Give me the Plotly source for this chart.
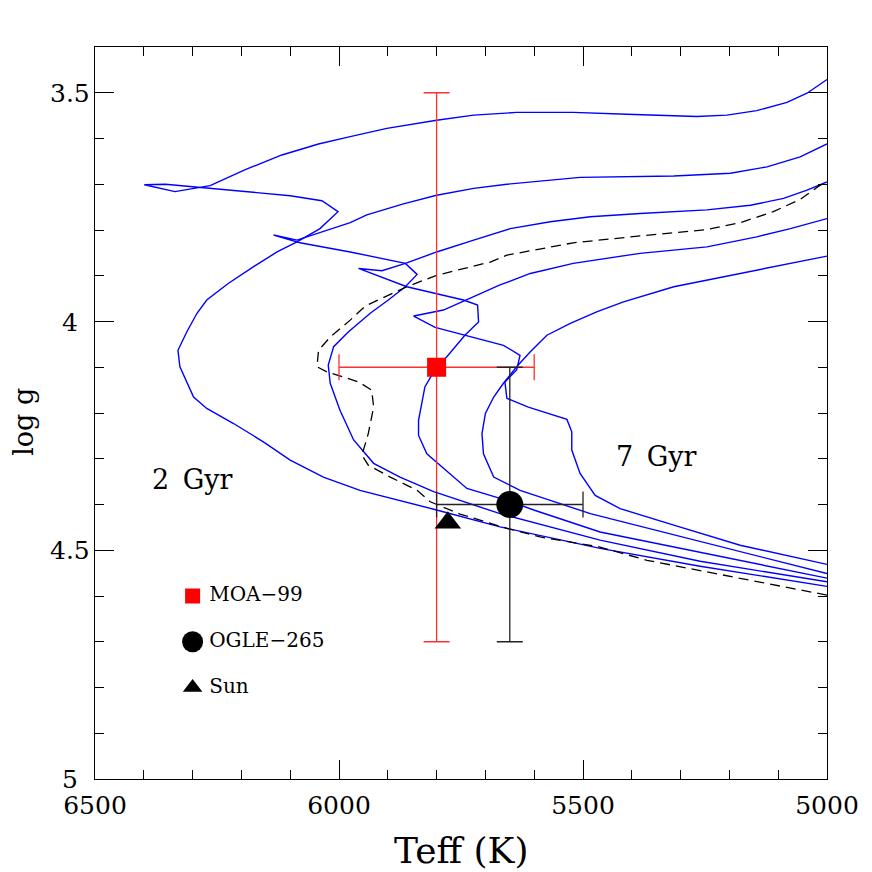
import plotly.graph_objects as go

# --- isochrones (Teff in K, log g) ---
iso_a_teff = [5000, 5260, 5465, 5670, 5800, 5875, 5957, 6032, 6100, 6155, 6216, 6271, 6298, 6326, 6330,
              6312, 6291, 6271, 6227, 6175, 6127, 6086, 6039, 6002, 6035, 6100, 6356, 6399, 6336, 6264,
              6192, 6117, 6042, 5977, 5902, 5800, 5724, 5636, 5520, 5410, 5267, 5205, 5144, 5082, 5041, 5000]
iso_a_logg = [4.579, 4.535, 4.496, 4.449, 4.412, 4.391, 4.369, 4.340, 4.303, 4.263, 4.223, 4.190, 4.165, 4.099, 4.063,
              4.023, 3.982, 3.953, 3.917, 3.880, 3.848, 3.826, 3.797, 3.760, 3.736, 3.725, 3.700, 3.701, 3.716, 3.703,
              3.668, 3.636, 3.612, 3.596, 3.578, 3.560, 3.549, 3.543, 3.543, 3.547, 3.552, 3.549, 3.539, 3.521, 3.501, 3.471]

iso_b_teff = [5000, 5260, 5465, 5670, 5806, 5875, 5929, 5970, 5998, 6018, 6022, 6011, 5981, 5936, 5899,
              5864, 5840, 5864, 5977, 6032, 6080, 6134, 6086, 5977, 5943, 5868, 5800, 5724, 5656, 5506,
              5314, 5198, 5123, 5055, 5000]
iso_b_logg = [4.569, 4.524, 4.478, 4.420, 4.372, 4.340, 4.310, 4.259, 4.194, 4.135, 4.095, 4.055, 4.023, 3.982, 3.953,
              3.924, 3.897, 3.873, 3.848, 3.837, 3.828, 3.811, 3.822, 3.784, 3.767, 3.743, 3.724, 3.709, 3.700, 3.685,
              3.682, 3.676, 3.662, 3.640, 3.612]

iso_c_teff = [5000, 5260, 5465, 5601, 5656, 5738, 5793, 5820, 5837, 5837, 5824, 5800, 5779, 5742, 5714,
              5716, 5745, 5861, 5960, 5912, 5864, 5800, 5724, 5649, 5567, 5485, 5383, 5246, 5157, 5089,
              5041, 5000]
iso_c_logg = [4.561, 4.504, 4.460, 4.412, 4.391, 4.365, 4.314, 4.289, 4.249, 4.216, 4.143, 4.099, 4.077, 4.030, 4.001,
              3.964, 3.953, 3.924, 3.884, 3.889, 3.873, 3.848, 3.822, 3.797, 3.782, 3.771, 3.764, 3.756, 3.746, 3.731,
              3.713, 3.695]

iso_d_teff = [5000, 5246, 5383, 5485, 5567, 5629, 5683, 5704, 5707, 5700, 5683, 5663, 5636, 5608, 5574,
              5526, 5472, 5417, 5314, 5212, 5110, 5000]
iso_d_logg = [4.551, 4.485, 4.449, 4.420, 4.391, 4.369, 4.340, 4.289, 4.245, 4.201, 4.165, 4.135, 4.099, 4.066, 4.030,
              4.004, 3.979, 3.957, 3.924, 3.902, 3.880, 3.857]

iso_e_teff = [5000, 5178, 5314, 5424, 5475, 5506, 5523, 5523, 5533, 5612, 5656, 5660, 5636, 5629, 5663,
              5738, 5803, 5847, 5786, 5670, 5608, 5520, 5383, 5246, 5144, 5075, 5000]
iso_e_logg = [4.531, 4.489, 4.445, 4.409, 4.380, 4.332, 4.281, 4.241, 4.214, 4.187, 4.168, 4.132, 4.106, 4.074, 4.052,
              4.031, 4.013, 3.988, 3.975, 3.920, 3.895, 3.873, 3.851, 3.837, 3.815, 3.797, 3.775]

dashed_teff = [5000, 5369, 5465, 5588, 5656, 5752, 5813, 5840, 5895, 5940, 5953, 5940, 5929, 5933, 5960,
               6025, 6045, 6042, 6018, 5977, 5946, 5861, 5800, 5690, 5656, 5520, 5383, 5246, 5178, 5110,
               5055, 5014, 5000]
dashed_logg = [4.598, 4.522, 4.493, 4.471, 4.452, 4.421, 4.394, 4.369, 4.340, 4.314, 4.292, 4.245, 4.187, 4.150, 4.132,
               4.110, 4.099, 4.063, 4.034, 3.997, 3.966, 3.924, 3.899, 3.870, 3.855, 3.828, 3.813, 3.799, 3.784, 3.760,
               3.733, 3.702, 3.697]

# --- stars ---
moa_teff, moa_logg, moa_dteff, moa_dlogg = 5800, 4.1, 200, 0.6
ogle_teff, ogle_logg, ogle_dteff, ogle_dlogg = 5650, 4.4, 150, 0.3
sun_teff, sun_logg = 5777, 4.44

# --- key and labels ---
key_labels = ["MOA\u221299", "OGLE\u2212265", "Sun"]
key_symbols = ["square", "circle", "triangle-up"]
key_sizes = [15, 21, 17]
key_colors = ["red", "black", "black"]
key_teff = [6300, 6300, 6300]
key_text_teff = [6266, 6266, 6266]
key_logg = [4.6, 4.7, 4.8]
age_labels = ["2\u2002Gyr", "7\u2002Gyr"]
age_teff = [6300, 5350]
age_logg = [4.345, 4.295]

xtick_vals = [6500, 6000, 5500, 5000]
ytick_vals = [3.5, 4.0, 4.5, 5.0]
ytick_text = ["3.5", "4", "4.5", "5"]

FONT = "DejaVu Serif"
fig = go.Figure()

for xs, ys in [(iso_a_teff, iso_a_logg), (iso_b_teff, iso_b_logg), (iso_c_teff, iso_c_logg),
               (iso_d_teff, iso_d_logg), (iso_e_teff, iso_e_logg)]:
    fig.add_trace(go.Scatter(x=xs, y=ys, mode="lines", line=dict(color="#0000ff", width=1.4),
                             showlegend=False, hoverinfo="skip"))
fig.add_trace(go.Scatter(x=dashed_teff, y=dashed_logg, mode="lines",
                         line=dict(color="black", width=1.3, dash="10px,6px"),
                         showlegend=False, hoverinfo="skip"))

# MOA-99 with red error bars
fig.add_trace(go.Scatter(
    x=[moa_teff], y=[moa_logg], mode="markers",
    marker=dict(symbol="square", size=19, color="red"),
    error_x=dict(type="constant", value=moa_dteff, color="#ff3030", thickness=1.3, width=13),
    error_y=dict(type="constant", value=moa_dlogg, color="#ff3030", thickness=1.3, width=13),
    showlegend=False))

# OGLE-265 with black error bars
fig.add_trace(go.Scatter(
    x=[ogle_teff], y=[ogle_logg], mode="markers",
    marker=dict(symbol="circle", size=27, color="black"),
    error_x=dict(type="constant", value=ogle_dteff, color="#222222", thickness=1.3, width=13),
    error_y=dict(type="constant", value=ogle_dlogg, color="#222222", thickness=1.3, width=13),
    showlegend=False))

# Sun
fig.add_trace(go.Scatter(x=[sun_teff], y=[sun_logg], mode="markers",
                         marker=dict(symbol="triangle-up", size=23, color="black"),
                         showlegend=False))

# in-plot key
for tx, gy, sym, sz, col in zip(key_teff, key_logg, key_symbols, key_sizes, key_colors):
    fig.add_trace(go.Scatter(x=[tx], y=[gy], mode="markers",
                             marker=dict(symbol=sym, size=sz, color=col, opacity=1,
                                         line=dict(width=0)),
                             showlegend=False))
fig.add_trace(go.Scatter(
    x=key_text_teff, y=key_logg, mode="text",
    text=key_labels, textposition="middle right",
    textfont=dict(family=FONT, size=20, color="black"),
    showlegend=False))

for lab, tx, gy in zip(age_labels, age_teff, age_logg):
    fig.add_annotation(x=tx, y=gy, text=lab, showarrow=False,
                       font=dict(family=FONT, size=27, color="black"))

# y tick labels centred left of the axis
for v, t in zip(ytick_vals, ytick_text):
    fig.add_annotation(x=-0.034, xref="paper", y=v, yref="y", text=t, showarrow=False,
                       xanchor="center", yanchor="middle", height=24,
                       font=dict(family=FONT, size=25, color="black"))

# axis titles
fig.add_annotation(x=0.5, xref="paper", y=-0.097, yref="paper", text="Teff (K)",
                   showarrow=False, xanchor="center", yanchor="middle",
                   font=dict(family=FONT, size=36, color="black"))
fig.add_annotation(x=-0.097, xref="paper", y=0.488, yref="paper", text="log g",
                   showarrow=False, textangle=-90, xanchor="center", yanchor="middle",
                   borderpad=0, font=dict(family=FONT, size=27, color="black"))

axis_common = dict(
    showline=True, linecolor="black", linewidth=1.3, mirror="allticks",
    ticks="inside", tickcolor="black", tickwidth=1.3, ticklen=19,
    showgrid=False, zeroline=False, automargin=False,
    tickfont=dict(family=FONT, size=25, color="black"),
)

fig.update_xaxes(
    range=[6500, 5000], tickvals=xtick_vals,
    minor=dict(ticks="inside", ticklen=9, tickcolor="black", tickwidth=1.3, dtick=100, tick0=5000),
    ticklabelstandoff=4,
    **axis_common)
fig.update_yaxes(
    range=[5.0, 3.4], tickvals=ytick_vals, showticklabels=False,
    minor=dict(ticks="inside", ticklen=9, tickcolor="black", tickwidth=1.3, dtick=0.1, tick0=3.5),
    **axis_common)

fig.update_layout(
    width=872, height=872,
    margin=dict(l=87, r=53, t=39, b=101),
    plot_bgcolor="white", paper_bgcolor="white",
)

fig.write_html("out.html")
